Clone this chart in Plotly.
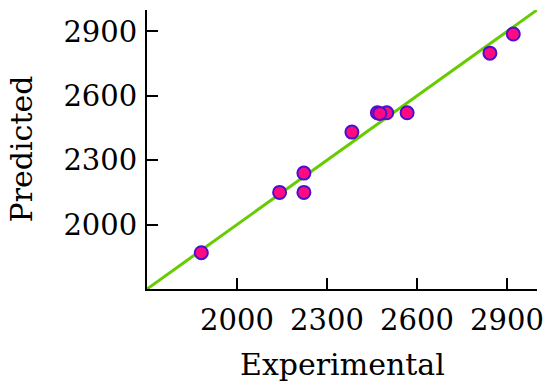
import plotly.graph_objects as go

experimental = [1881, 2142, 2223, 2223, 2383, 2468, 2499, 2476, 2567, 2843, 2921]
predicted = [1869, 2150, 2150, 2240, 2431, 2521, 2521, 2518, 2521, 2799, 2888]
line_x = [1700, 3000]
line_y = [1700, 3000]
tick_vals = [2000, 2300, 2600, 2900]
tick_text = ["2000", "2300", "2600", "2900"]
x_title = "Experimental"
y_title = "Predicted"

font_family = "DejaVu Serif"

fig = go.Figure()
fig.add_trace(go.Scatter(x=line_x, y=line_y, mode="lines",
                         line=dict(color="#66CC00", width=3), showlegend=False,
                         hoverinfo="skip"))
fig.add_trace(go.Scatter(x=experimental, y=predicted, mode="markers",
                         marker=dict(size=13, color="#FF0A80",
                                     line=dict(color="#4A10D0", width=2)),
                         showlegend=False))

axis_common = dict(
    showgrid=False, zeroline=False, showline=True, linecolor="black", linewidth=2,
    ticks="inside", ticklen=11, tickwidth=2, tickcolor="black",
    tickvals=tick_vals, ticktext=tick_text,
    tickfont=dict(family=font_family, size=29, color="black"),
    range=[1700, 3000], automargin=False,
)
fig.update_xaxes(**axis_common, ticklabelstandoff=4)
fig.update_yaxes(**axis_common, ticklabelstandoff=2)

title_font = dict(family=font_family, size=30, color="black")
fig.add_annotation(text=x_title, xref="paper", yref="paper", x=0.5, y=0,
                   xanchor="center", yanchor="middle", yshift=-75,
                   showarrow=False, font=title_font)
fig.add_annotation(text=y_title, xref="paper", yref="paper", x=0, y=0.5,
                   xanchor="center", yanchor="middle", xshift=-126, textangle=-90,
                   borderpad=0, showarrow=False, font=title_font)

fig.update_layout(width=550, height=391, plot_bgcolor="white", paper_bgcolor="white",
                  margin=dict(l=147, r=13, t=10, b=102))

# remove the default page body margin so the figure fills the window exactly
fig.write_html("out.html", config={"displayModeBar": False},
               post_script="document.body.style.margin='0px';")
